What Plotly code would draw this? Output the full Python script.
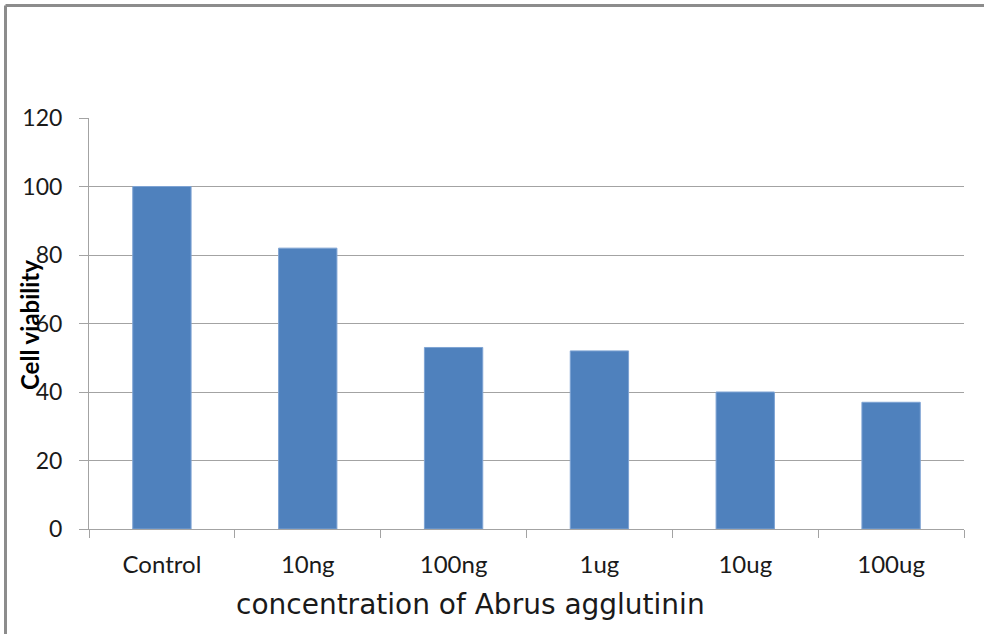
import plotly.graph_objects as go

# Cell viability after treatment with Abrus agglutinin
concentrations = ["Control", "10ng", "100ng", "1ug", "10ug", "100ug"]
viability = [100, 82, 53, 52, 40, 37]
y_ticks = [0, 20, 40, 60, 80, 100, 120]

W, H = 984, 634
ML, MR, MT, MB = 89, 20, 118, 105
PW, PH = W - ML - MR, H - MT - MB

def px_x(px):
    return (px - ML) / PW

def px_y(py):
    return (H - MB - py) / PH

axis_grey = "#a3a3a3"
text_col = "#1a1a1a"

fig = go.Figure(
    go.Bar(
        x=concentrations,
        y=viability,
        marker=dict(color="#4f81bd", line=dict(color="#7ea3d3", width=1)),
        width=0.4,
    )
)

fig.update_layout(
    width=W,
    height=H,
    margin=dict(l=ML, r=MR, t=MT, b=MB),
    paper_bgcolor="white",
    plot_bgcolor="white",
    showlegend=False,
    font=dict(family="Lato", color=text_col),
)

fig.update_xaxes(
    showline=True,
    linecolor=axis_grey,
    linewidth=1,
    ticks="outside",
    tickson="boundaries",
    ticklen=8,
    tickcolor=axis_grey,
    tickfont=dict(size=24, family="Lato", color=text_col),
    ticklabelstandoff=14,
    showgrid=False,
)

fig.update_yaxes(
    range=[0, 120],
    tickvals=y_ticks,
    showline=True,
    linecolor=axis_grey,
    linewidth=1,
    ticks="outside",
    ticklen=9,
    tickcolor=axis_grey,
    showgrid=True,
    gridcolor=axis_grey,
    gridwidth=1,
    zeroline=False,
    tickfont=dict(size=23, family="Lato", color=text_col),
    ticklabelstandoff=12,
)

# Axis titles
fig.add_annotation(
    text="concentration of Abrus agglutinin",
    xref="paper", yref="paper",
    x=px_x(470), y=px_y(604),
    xanchor="center", yanchor="middle",
    showarrow=False,
    font=dict(size=28, family="DejaVu Sans", color=text_col),
)
fig.add_annotation(
    text="<b>Cell viability</b>",
    xref="paper", yref="paper",
    x=px_x(29), y=px_y(325),
    xanchor="center", yanchor="middle",
    textangle=-90,
    showarrow=False,
    font=dict(size=24, family="Lato", color="black"),
)

# Chart frame (top and left edges)
frame = dict(color="#8c8c8c", width=3)
fig.add_shape(type="line", xref="paper", yref="paper",
              x0=px_x(5.5), x1=px_x(W + 5), y0=px_y(5.5), y1=px_y(5.5), line=frame)
fig.add_shape(type="line", xref="paper", yref="paper",
              x0=px_x(5.5), x1=px_x(5.5), y0=px_y(5.5), y1=px_y(H + 5), line=frame)

fig.write_html("out.html")
